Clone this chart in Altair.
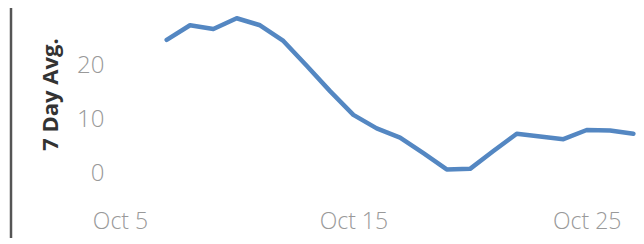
import altair as alt
import pandas as pd

# Data
dates = [
    "2020-10-07", "2020-10-08", "2020-10-09", "2020-10-10", "2020-10-11",
    "2020-10-12", "2020-10-13", "2020-10-14", "2020-10-15", "2020-10-16",
    "2020-10-17", "2020-10-18", "2020-10-19", "2020-10-20", "2020-10-21",
    "2020-10-22", "2020-10-23", "2020-10-24", "2020-10-25", "2020-10-26",
    "2020-10-27",
]
avg7 = [24.8, 27.5, 26.8, 28.8, 27.5, 24.6, 20.0, 15.3, 10.9, 8.4,
        6.7, 3.8, 0.8, 0.9, 4.2, 7.4, 6.9, 6.4, 8.1, 8.0, 7.4]
y_ticks = [0, 10, 20]
x_tick_dates = [(2020, 10, 5), (2020, 10, 15), (2020, 10, 25)]

df = pd.DataFrame({"date": [d + "T00:00:00" for d in dates], "avg": avg7})

W, H = 524, 190
L, T, R, B = 104, 0, 0, 40

line = alt.Chart(df).mark_line(
    color="#5487c2", strokeWidth=4.5, strokeCap="round", strokeJoin="round"
).encode(
    x=alt.X(
        "date:T",
        scale=alt.Scale(domain=["2020-10-04T15:45:00", "2020-10-27T02:40:00"], nice=False),
        axis=alt.Axis(
            title=None,
            values=[alt.DateTime(year=y, month=m, date=d) for (y, m, d) in x_tick_dates],
            format="%b %-d",
            grid=False, domain=False, ticks=False,
            labelFont="Open Sans", labelFontSize=23, labelFontWeight=300,
            labelColor="#999999",
            labelPadding=12, labelFlush=False, labelOverlap=False,
        ),
    ),
    y=alt.Y(
        "avg:Q",
        scale=alt.Scale(domain=[-4.5, 30.7], nice=False, zero=False),
        axis=alt.Axis(
            title="7 Day Avg.",
            values=y_ticks,
            grid=False, domain=False, ticks=False,
            labelFont="Open Sans", labelFontSize=24, labelFontWeight=300,
            labelColor="#999999",
            labelPadding=8, labelFlush=False, labelOverlap=False,
            titleFont="Open Sans", titleFontSize=22, titleFontWeight="bold",
            titleColor="#333333", titleAngle=270, titleAlign="center",
            titleBaseline="middle", titleX=-62, titleY=86,
        ),
    ),
)

edge = alt.Chart(alt.Data(values=[{}])).mark_rule(
    color="#555555", strokeWidth=2.5
).encode(
    x=alt.value(-L + 3),
    y=alt.value(0),
    y2=alt.value(H + B),
)

chart = alt.layer(edge, line).properties(
    width=W, height=H,
    autosize=alt.AutoSizeParams(type="none"),
    padding={"left": L, "top": T, "right": R, "bottom": B},
).configure_view(stroke=None)

chart.save("out.html", embed_options={"renderer": "svg", "actions": False})
